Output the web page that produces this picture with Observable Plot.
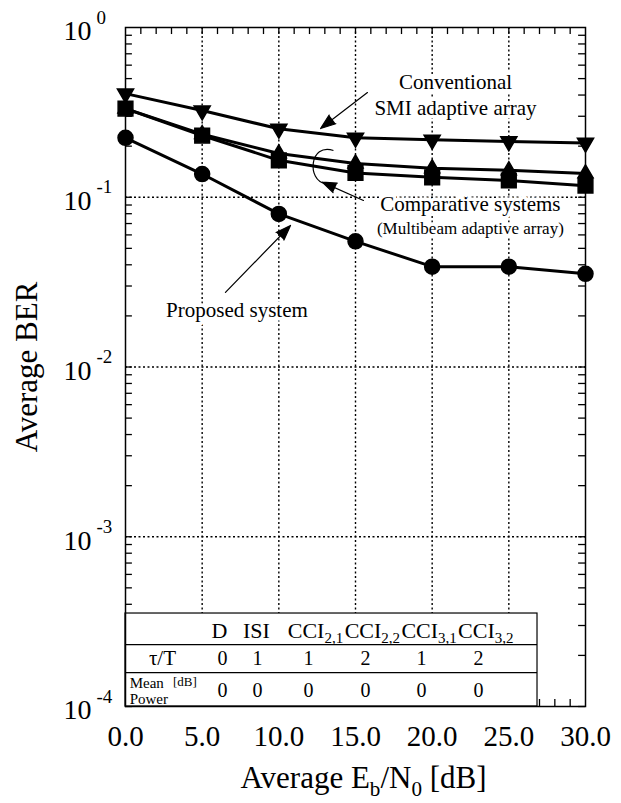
<!DOCTYPE html>
<html><head><meta charset="utf-8">
<script src="https://cdn.jsdelivr.net/npm/d3@7"></script>
<script src="https://cdn.jsdelivr.net/npm/@observablehq/plot@0.6"></script>
<style>
html,body{margin:0;padding:0;background:#fff;}
#chart{width:621px;height:803px;}
</style></head><body><div id="chart"></div>
<script>
// ---- data ----
const ebN0 = [0, 5, 10, 15, 20, 25, 30];
const berConventional = [0.408, 0.324, 0.253, 0.224, 0.218, 0.213, 0.209];
const berComparativeA = [0.333, 0.235, 0.181, 0.158, 0.148, 0.144, 0.138];
const berComparativeB = [0.333, 0.231, 0.165, 0.139, 0.131, 0.1255, 0.117];
const berProposed = [0.224, 0.137, 0.0798, 0.055, 0.039, 0.039, 0.0354];

const xTickValues = [0, 5, 10, 15, 20, 25, 30];
const yTickValues = [1, 0.1, 0.01, 0.001, 0.0001];
const xGrid = [5, 10, 15, 20, 25];
const yGrid = [0.1, 0.01, 0.001];

const tableHeaders = ["D", "ISI", "CCI_{2,1}", "CCI_{2,2}", "CCI_{3,1}", "CCI_{3,2}"];
const tableTau = [0, 1, 1, 2, 1, 2];
const tableMeanPower = [0, 0, 0, 0, 0, 0];

const annotTexts = [
  {text: "Conventional\nSMI adaptive array", x: 21.52, y: 0.4085},
  {text: "Comparative systems", x: 22.49, y: 0.0931},
  {text: "Proposed system", x: 7.27, y: 0.0221}
];
const annotSmall = [{text: "(Multibeam adaptive array)", x: 22.49, y: 0.0655}];
const annotArrows = [
  {x1: 15.78, y1: 0.414, x2: 12.72, y2: 0.254},
  {x1: 15.52, y1: 0.0957, x2: 12.83, y2: 0.1227},
  {x1: 6.52, y1: 0.0275, x2: 10.76, y2: 0.0682}
];
const annotCurl = [{x: 12.91, y: 0.1518}];

// ---- layout (table, in chart coordinates) ----
const tbl = {
  right: 26.87, top: 3.53e-4, row1: 2.317e-4, row2: 1.585e-4,
  headerY: 2.805e-4, tauY: 1.918e-4, powerY: 1.24e-4, dbY: 1.40e-4,
  colX: [6.33, 8.61, 11.93, 15.65, 19.30, 23.02],
  headerX: [6.13, 8.54, 12.39, 16.1, 19.8, 23.5],
  labelX: 2.41, powerX: 0.27, dbX: 3.1
};

// ---- derived ----
const makeRows = (name, vals) => ebN0.map((x, i) => ({series: name, x, y: vals[i]}));
const rowsConv = makeRows("Conventional SMI adaptive array", berConventional);
const rowsCompA = makeRows("Comparative A", berComparativeA);
const rowsCompB = makeRows("Comparative B", berComparativeB);
const rowsProp = makeRows("Proposed system", berProposed);
const allRows = [...rowsConv, ...rowsCompA, ...rowsCompB, ...rowsProp];

const yMinor = [];
for (let e = -4; e <= -1; e++) for (let k = 1; k <= 9; k++) yMinor.push(k * Math.pow(10, e));
const xMinor = d3.range(1, 30);

const curlSymbol = {
  draw(ctx) {
    ctx.moveTo(10, -16);
    ctx.bezierCurveTo(-14, -24, -17, 14, 2, 17);
  }
};

const headerCells = tableHeaders.map((t, i) => ({t, x: tbl.headerX[i]}));
const tauCells = tableTau.map((t, i) => ({t: String(t), x: tbl.colX[i]}));
const powCells = tableMeanPower.map((t, i) => ({t: String(t), x: tbl.colX[i]}));

const chart = Plot.plot({
  width: 621, height: 803,
  marginLeft: 125, marginRight: 36, marginTop: 27, marginBottom: 97,
  x: {domain: [0, 30]},
  y: {type: "log", domain: [1e-4, 1]},
  style: {fontFamily: "'Liberation Serif', 'Times New Roman', serif", background: "white", color: "black"},
  marks: [
    // grid
    Plot.ruleX(xGrid, {stroke: "black", strokeWidth: 1.4, strokeDasharray: "2,2.5"}),
    Plot.ruleY(yGrid, {stroke: "black", strokeWidth: 1.4, strokeDasharray: "2,2.5"}),
    // inward ticks
    Plot.ruleY(yMinor, {x1: 0, x2: 0.45, stroke: "black", strokeWidth: 1.3}),
    Plot.ruleY(yMinor, {x1: 29.55, x2: 30, stroke: "black", strokeWidth: 1.3}),
    Plot.ruleX(xMinor, {y1: 1, y2: 0.909, stroke: "black", strokeWidth: 1.3}),
    Plot.ruleX(xMinor, {y1: 1e-4, y2: 1.1e-4, stroke: "black", strokeWidth: 1.3}),
    // table
    Plot.rect([tbl], {x1: 0, x2: "right", y1: 1e-4, y2: "top", fill: "white", stroke: "black", strokeWidth: 1.2}),
    Plot.ruleY([tbl.row1, tbl.row2], {x1: 0, x2: tbl.right, stroke: "black", strokeWidth: 1.3}),
    Plot.text(headerCells, {x: "x", y: tbl.headerY, text: "t", fontSize: 22, lineAnchor: "middle"}),
    Plot.text(tauCells, {x: "x", y: tbl.tauY, text: "t", fontSize: 20, lineAnchor: "middle"}),
    Plot.text(powCells, {x: "x", y: tbl.powerY, text: "t", fontSize: 20, lineAnchor: "middle"}),
    Plot.text(["τ/T"], {x: tbl.labelX, y: tbl.tauY, text: d => d, fontSize: 21, lineAnchor: "middle"}),
    Plot.text(["Mean\nPower"], {x: tbl.powerX, y: tbl.powerY, text: d => d, fontSize: 15, lineHeight: 1.12, textAnchor: "start", lineAnchor: "middle"}),
    Plot.text(["[dB]"], {x: tbl.dbX, y: tbl.dbY, text: d => d, fontSize: 13, textAnchor: "start", lineAnchor: "middle"}),
    // frame
    Plot.frame({stroke: "black", strokeWidth: 1.5}),
    // axes
    Plot.axisX(xTickValues, {anchor: "bottom", tickSize: 0, tickPadding: 19, fontSize: 29, tickFormat: d => d.toFixed(1), label: null}),
    Plot.axisY(yTickValues, {anchor: "left", tickSize: 0, tickPadding: 34, fontSize: 28, dy: 4, tickFormat: () => "10", label: null}),
    Plot.text(yTickValues, {y: d => d, frameAnchor: "left", dx: -29, dy: -10, text: d => String(Math.round(Math.log10(d))), textAnchor: "start", fontSize: 19}),
    Plot.text(["Average BER"], {frameAnchor: "left", dx: -98, rotate: -90, fontSize: 31, textAnchor: "middle", lineAnchor: "middle", text: d => d}),
    Plot.text(["Average E_{b}/N_{0} [dB]"], {frameAnchor: "bottom", dx: 8, dy: 72, fontSize: 31, lineAnchor: "middle", text: d => d}),
    // series
    Plot.line(allRows, {x: "x", y: "y", z: "series", stroke: "black", strokeWidth: 3}),
    Plot.dot(rowsCompA, {x: "x", y: "y", symbol: "triangle", r: 5.6, fill: "black", stroke: "black"}),
    Plot.dot(rowsCompB, {x: "x", y: "y", symbol: "square", r: 8.3, fill: "black", stroke: "black"}),
    Plot.dot(rowsConv, {x: "x", y: "y", symbol: "triangle", rotate: 180, r: 6, fill: "black", stroke: "black"}),
    Plot.dot(rowsProp, {x: "x", y: "y", symbol: "circle", r: 7.5, fill: "black", stroke: "black"}),
    // annotations
    Plot.text(annotTexts, {x: "x", y: "y", text: "text", fontSize: 21, lineHeight: 1.24, lineAnchor: "middle", stroke: "white", strokeWidth: 7, fill: "black"}),
    Plot.text(annotSmall, {x: "x", y: "y", text: "text", fontSize: 17, lineAnchor: "middle", stroke: "white", strokeWidth: 7, fill: "black"}),
    Plot.arrow(annotArrows, {x1: "x1", y1: "y1", x2: "x2", y2: "y2", stroke: "black", fill: "black", strokeWidth: 1.2, headLength: 20, headAngle: 40}),
    Plot.dot(annotCurl, {x: "x", y: "y", symbol: curlSymbol, r: 10, stroke: "black", fill: "none", strokeWidth: 1.2})
  ]
});

document.getElementById("chart").appendChild(chart);

// sub/superscript markup -> tspans
chart.querySelectorAll("text").forEach(t => {
  if (t.querySelector("tspan")) return;
  const s = t.textContent;
  if (!/[_^]\{/.test(s)) return;
  const fs = parseFloat(getComputedStyle(t).fontSize);
  const parts = s.split(/([_^]\{[^}]*\})/).filter(p => p !== "");
  t.textContent = "";
  let shift = 0;
  for (const p of parts) {
    const ts = document.createElementNS("http://www.w3.org/2000/svg", "tspan");
    let target = 0, txt = p, small = false;
    if (p.startsWith("_{")) { target = 0.25 * fs; txt = p.slice(2, -1); small = true; }
    else if (p.startsWith("^{")) { target = -0.4 * fs; txt = p.slice(2, -1); small = true; }
    if (target - shift !== 0) ts.setAttribute("dy", (target - shift).toFixed(2));
    shift = target;
    if (small) ts.setAttribute("font-size", (0.68 * fs).toFixed(1));
    ts.textContent = txt;
    t.appendChild(ts);
  }
});
</script>
</body></html>
